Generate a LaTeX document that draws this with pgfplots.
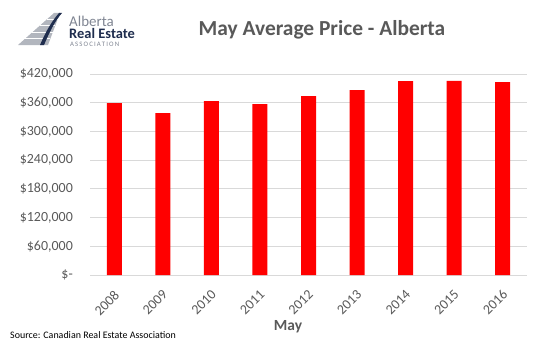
\documentclass[border=0pt]{standalone}
\usepackage{fontspec}
\setmainfont{Carlito}
\usepackage{pgfplots}
\usetikzlibrary{calc}
\pgfplotsset{compat=1.18}
\definecolor{txtgray}{HTML}{595959}
\definecolor{gridgray}{HTML}{D9D9D9}
\definecolor{navy}{HTML}{1F2D4E}
\definecolor{logogray}{HTML}{7F8592}
\begin{document}
\begin{tikzpicture}
\begin{scope}[x=1bp,y=1bp]
\path[use as bounding box] (0,0) rectangle (546,351);
% logo
\fill[logogray!60] (18,306) -- (48,306) -- (60,338) -- (54,338) -- cycle;
\foreach \t in {0.2,0.4,0.6,0.8}{\draw[white,line width=0.6bp] ($(18,306)!\t!(54,338)$) -- ($(48,306)!\t!(60,338)$);}
\fill[navy] (44,306) .. controls (50,320) and (55,330) .. (62,338) -- (59,338) .. controls (52,330) and (46,320) .. (40,306) -- cycle;
\node[anchor=base west, inner sep=0pt, text=logogray, font=\fontsize{15}{15}\selectfont] at (69,325) {Alberta};
\node[anchor=base west, inner sep=0pt, text=navy, font=\fontsize{14.5}{14.5}\selectfont\bfseries] at (69,313) {Real Estate};
\node[anchor=base west, inner sep=0pt, text=logogray, font=\fontsize{6.8}{6.8}\selectfont] at (70,305) {A\,S\,S\,O\,C\,I\,A\,T\,I\,O\,N};
% title
\node[text=txtgray, font=\fontsize{21.5}{21.5}\selectfont\bfseries] at (322,321) {May Average Price - Alberta};
\node[text=txtgray, font=\fontsize{15.5}{15.5}\selectfont\bfseries] at (288,24) {May};
\node[anchor=west, inner sep=0pt, font=\fontsize{10}{10}\selectfont] at (10,16) {Source: Canadian Real Estate Association};
\end{scope}
\begin{axis}[
  at={(90bp,76bp)}, anchor=south west,
  width=437bp, height=201bp, scale only axis,
  ybar, bar width=15bp,
  xmin=-0.5, xmax=8.5, ymin=0, ymax=420000,
  scaled y ticks=false,
  ytick={0,60000,120000,180000,240000,300000,360000,420000},
  yticklabels={{\$-\hspace{6bp}},{\$60,000},{\$120,000},{\$180,000},{\$240,000},{\$300,000},{\$360,000},{\$420,000}},
  xtick={0,1,2,3,4,5,6,7,8},
  xticklabels={2008,2009,2010,2011,2012,2013,2014,2015,2016},
  x tick label style={xshift=-1bp, yshift=-14bp, rotate=45, anchor=north east, inner sep=0pt, text=txtgray, font=\fontsize{14}{14}\selectfont},
  y tick label style={anchor=east, inner sep=0pt, xshift=-17bp, text=txtgray, font=\fontsize{14}{14}\selectfont},
  major tick length=0pt,
  ymajorgrids, grid style={gridgray, line width=0.8bp},
  axis x line*=bottom, axis y line*=left,
  y axis line style={draw=none},
  x axis line style={gridgray, line width=0.8bp, -},
  clip=false,
]
\addplot[fill=red, draw=none] coordinates {(0,359000) (1,338000) (2,363500) (3,357000) (4,374000) (5,386500) (6,405000) (7,405500) (8,403000)};
\end{axis}
\end{tikzpicture}
\end{document}
